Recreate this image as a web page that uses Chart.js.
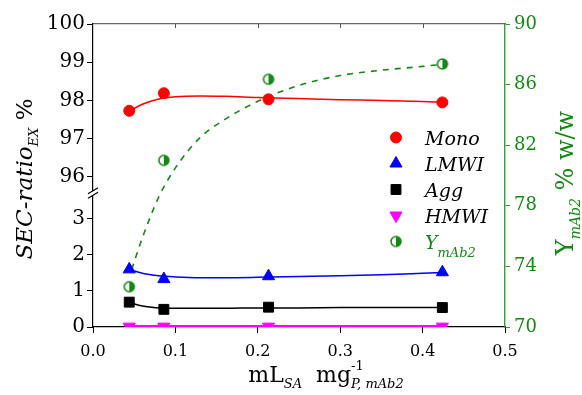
<!DOCTYPE html>
<html>
<head>
<meta charset="utf-8">
<script src="https://cdn.jsdelivr.net/npm/chart.js@4.4.1/dist/chart.umd.min.js"></script>
<style>
  html, body { margin: 0; padding: 0; background: #fff; }
  #wrap { width: 582px; height: 395px; }
</style>
</head>
<body>
<div id="wrap"><canvas id="chart" width="582" height="395"></canvas></div>
<script>
// loading, mL SA per mg mAb2
const loadings = [0.044, 0.086, 0.213, 0.424];
// SEC ratios (%)
const mono = [97.73, 98.19, 98.03, 97.95];
const lmwi = [1.60, 1.33, 1.41, 1.52];
const agg  = [0.69, 0.49, 0.55, 0.54];
const hmwi = [0.01, 0.01, 0.01, 0.01];
// yield (% w/w), right axis
const yieldMab2 = [72.66, 81.0, 86.35, 87.36];

// fitted trend lines, sampled along x
const fitX    = [0.044, 0.06, 0.08, 0.10, 0.13, 0.16, 0.20, 0.25, 0.30, 0.35, 0.40, 0.424];
const monoFit = [97.72, 97.90, 98.04, 98.10, 98.12, 98.11, 98.08, 98.05, 98.02, 98.00, 97.97, 97.96];
const lmwiFit = [1.60, 1.49, 1.42, 1.39, 1.37, 1.37, 1.38, 1.40, 1.42, 1.45, 1.49, 1.51];
const aggFit  = [0.68, 0.58, 0.53, 0.52, 0.52, 0.52, 0.53, 0.53, 0.54, 0.54, 0.54, 0.54];
const hmwiFit = [0.02, 0.02, 0.02, 0.02, 0.02, 0.02, 0.02, 0.02, 0.02, 0.02, 0.02, 0.02];
const yieldFitX = [0.047, 0.06, 0.08, 0.10, 0.13, 0.16, 0.20, 0.25, 0.30, 0.35, 0.40, 0.424];
const yieldFit  = [73.8, 75.9, 78.6, 80.5, 82.5, 83.7, 84.9, 85.95, 86.6, 86.95, 87.2, 87.35];

// tick labels
const xTicks = [0, 0.1, 0.2, 0.3, 0.4, 0.5];
const topTicks = [96, 97, 98, 99, 100];
const botTicks = [0, 1, 2, 3];
const rightTicks = [70, 74, 78, 82, 86, 90];

const SERIF = '"DejaVu Serif", serif';
const GREEN = '#128a12';

const pts = (xs, ys) => xs.map((x, i) => ({ x, y: ys[i] }));
const fixTicks = list => scale => { scale.ticks = list.map(v => ({ value: v })); };

// half-filled circle marker
function halfDot(r, color) {
  const c = document.createElement('canvas');
  const s = Math.ceil(r * 2 + 4);
  c.width = c.height = s;
  const g = c.getContext('2d');
  const m = s / 2;
  g.fillStyle = '#fff';
  g.beginPath(); g.arc(m, m, r, 0, Math.PI * 2); g.fill();
  g.fillStyle = color;
  g.beginPath(); g.moveTo(m, m); g.arc(m, m, r, -Math.PI / 2, Math.PI / 2); g.closePath(); g.fill();
  g.strokeStyle = color; g.lineWidth = 1.6;
  g.beginPath(); g.arc(m, m, r, 0, Math.PI * 2); g.stroke();
  return c;
}
const halfGreen = halfDot(5, GREEN);

// text made of runs: {text, font, dy, stay}
function runsWidth(ctx, runs) {
  let w = 0;
  runs.forEach(r => { ctx.font = r.font; if (!r.stay) w += ctx.measureText(r.text).width; });
  return w;
}
function drawRuns(ctx, runs, x, y) {
  let cx = x;
  runs.forEach(r => {
    ctx.font = r.font;
    ctx.fillText(r.text, cx, y + (r.dy || 0));
    if (!r.stay) cx += ctx.measureText(r.text).width;
  });
}

const decorations = {
  id: 'decorations',
  afterDraw(chart) {
    const { ctx, chartArea: a, scales } = chart;
    ctx.save();

    // inward ticks on the top frame
    ctx.strokeStyle = '#555';
    ctx.lineWidth = 1;
    xTicks.slice(1, -1).forEach(v => {
      const px = Math.round(scales.x.getPixelForValue(v)) + 0.5;
      ctx.beginPath(); ctx.moveTo(px, a.top); ctx.lineTo(px, a.top + 4); ctx.stroke();
    });

    // axis break on the left axis
    const yb = scales.yBot.top;
    ctx.fillStyle = '#fff';
    ctx.fillRect(a.left - 2, yb - 2, 4, 4);
    ctx.strokeStyle = '#000';
    ctx.lineWidth = 1.2;
    [-2.2, 2.2].forEach(off => {
      ctx.beginPath();
      ctx.moveTo(a.left - 5, yb + off + 3);
      ctx.lineTo(a.left + 5, yb + off - 3);
      ctx.stroke();
    });

    // legend
    const mx = a.right - 109, tx = a.right - 80;
    ctx.textBaseline = 'alphabetic';
    ctx.textAlign = 'left';
    chart.data.datasets.filter(d => d.inLegend).forEach((d, i) => {
      const base = 145 + i * 26;
      ctx.fillStyle = d.backgroundColor;
      ctx.strokeStyle = d.borderColor;
      ctx.lineWidth = 1;
      Chart.helpers.drawPoint(ctx, {
        pointStyle: d.pointStyle, radius: d.pointRadius,
        rotation: d.pointRotation || 0, borderWidth: 1
      }, mx, base - 7.5);
      ctx.fillStyle = d.textColor || '#000';
      const runs = [{ text: d.label, font: 'italic 19px ' + SERIF }];
      if (d.labelSub) runs.push({ text: d.labelSub, font: 'italic 13px ' + SERIF, dy: 8 });
      drawRuns(ctx, runs, tx, base);
    });

    // bottom axis title
    ctx.fillStyle = '#000';
    const xRuns = [
      { text: 'mL', font: '22px ' + SERIF },
      { text: 'SA', font: 'italic 13px ' + SERIF, dy: 6 },
      { text: '  mg', font: '22px ' + SERIF },
      { text: '-1', font: '13px ' + SERIF, dy: -12, stay: true },
      { text: 'P, mAb2', font: 'italic 13px ' + SERIF, dy: 6 }
    ];
    drawRuns(ctx, xRuns, (a.left + a.right) / 2 - runsWidth(ctx, xRuns) / 2 + 27, 382);

    // left axis title
    const lRuns = [
      { text: 'SEC-ratio', font: 'italic 23px ' + SERIF },
      { text: 'EX', font: 'italic 13px ' + SERIF, dy: 6 },
      { text: ' %', font: '23px ' + SERIF }
    ];
    ctx.save();
    ctx.translate(32, 179);
    ctx.rotate(-Math.PI / 2);
    drawRuns(ctx, lRuns, -runsWidth(ctx, lRuns) / 2, 0);
    ctx.restore();

    // right axis title
    const rRuns = [
      { text: 'Y', font: '24px ' + SERIF },
      { text: 'mAb2', font: 'italic 14px ' + SERIF, dy: 7 },
      { text: ' % w/w', font: '24px ' + SERIF }
    ];
    ctx.save();
    ctx.fillStyle = GREEN;
    ctx.translate(573, 183);
    ctx.rotate(-Math.PI / 2);
    drawRuns(ctx, rRuns, -runsWidth(ctx, rRuns) / 2, 0);
    ctx.restore();

    ctx.restore();
  }
};

const marker = (label, xs, ys, axis, color, style, radius, extra) => Object.assign({
  label, data: pts(xs, ys), yAxisID: axis, showLine: false,
  backgroundColor: color, borderColor: color, pointStyle: style,
  pointRadius: radius, pointHoverRadius: radius, pointBorderWidth: 1, inLegend: true
}, extra || {});

const curve = (xs, ys, axis, color, extra) => Object.assign({
  data: pts(xs, ys), yAxisID: axis, showLine: true, pointRadius: 0,
  borderColor: color, backgroundColor: color, borderWidth: 1.5,
  cubicInterpolationMode: 'monotone', fill: false
}, extra || {});

new Chart(document.getElementById('chart'), {
  type: 'scatter',
  data: {
    datasets: [
      marker('Mono', loadings, mono, 'yTop', '#ff0000', 'circle', 5.5),
      marker('LMWI', loadings, lmwi, 'yBot', '#0000ff', 'triangle', 7),
      marker('Agg', loadings, agg, 'yBot', '#000000', 'rect', 7),
      marker('HMWI', loadings, hmwi, 'yBot', '#ff00ff', 'triangle', 7, { pointRotation: 180 }),
      marker('Y', loadings, yieldMab2, 'y2', GREEN, halfGreen, 5.5, { labelSub: 'mAb2', textColor: GREEN }),
      curve(fitX, monoFit, 'yTop', '#ff0000'),
      curve(fitX, lmwiFit, 'yBot', '#0000ff'),
      curve(fitX, aggFit, 'yBot', '#000000'),
      curve(fitX, hmwiFit, 'yBot', '#ff00ff', { borderWidth: 2.5 }),
      curve(yieldFitX, yieldFit, 'y2', GREEN, { borderDash: [6, 6], borderWidth: 1.6 })
    ]
  },
  options: {
    responsive: false,
    animation: false,
    layout: { padding: 0 },
    plugins: { legend: { display: false }, tooltip: { enabled: false } },
    scales: {
      x: {
        type: 'linear', position: 'bottom', min: 0, max: 0.5,
        afterBuildTicks: fixTicks(xTicks),
        afterFit: s => { s.height = 68; },
        ticks: { color: '#000', padding: 9, font: { family: SERIF, size: 16 }, callback: v => v.toFixed(1) },
        grid: { drawOnChartArea: false, drawTicks: true, tickLength: 6, color: '#000' },
        border: { color: '#000', width: 1.2 }
      },
      xTop: {
        type: 'linear', position: 'top', min: 0, max: 0.5,
        afterFit: s => { s.height = 24; },
        ticks: { display: false },
        grid: { display: false },
        border: { display: true, color: '#666', width: 1.2 }
      },
      yBot: {
        type: 'linear', position: 'left', stack: 'sec', stackWeight: 134,
        min: 0, max: 3.72,
        afterBuildTicks: fixTicks(botTicks),
        afterFit: s => { s.width = 93; },
        ticks: { color: '#000', padding: 2, font: { family: SERIF, size: 20 } },
        grid: { drawOnChartArea: false, drawTicks: true, tickLength: 6, color: '#000' },
        border: { color: '#000', width: 1.2 }
      },
      yTop: {
        type: 'linear', position: 'left', stack: 'sec', stackWeight: 169,
        min: 95.58, max: 100,
        afterBuildTicks: fixTicks(topTicks),
        afterFit: s => { s.width = 93; },
        ticks: { color: '#000', padding: 2, font: { family: SERIF, size: 20 } },
        grid: { drawOnChartArea: false, drawTicks: true, tickLength: 6, color: '#000' },
        border: { color: '#000', width: 1.2 }
      },
      y2: {
        type: 'linear', position: 'right', min: 70, max: 90,
        afterBuildTicks: fixTicks(rightTicks),
        afterFit: s => { s.width = 77; },
        ticks: { color: GREEN, padding: 4, font: { family: SERIF, size: 18 } },
        grid: { drawOnChartArea: false, drawTicks: true, tickLength: 5, color: '#3c9a3c' },
        border: { color: '#3c9a3c', width: 1.4 }
      }
    }
  },
  plugins: [decorations]
});
</script>
</body>
</html>
